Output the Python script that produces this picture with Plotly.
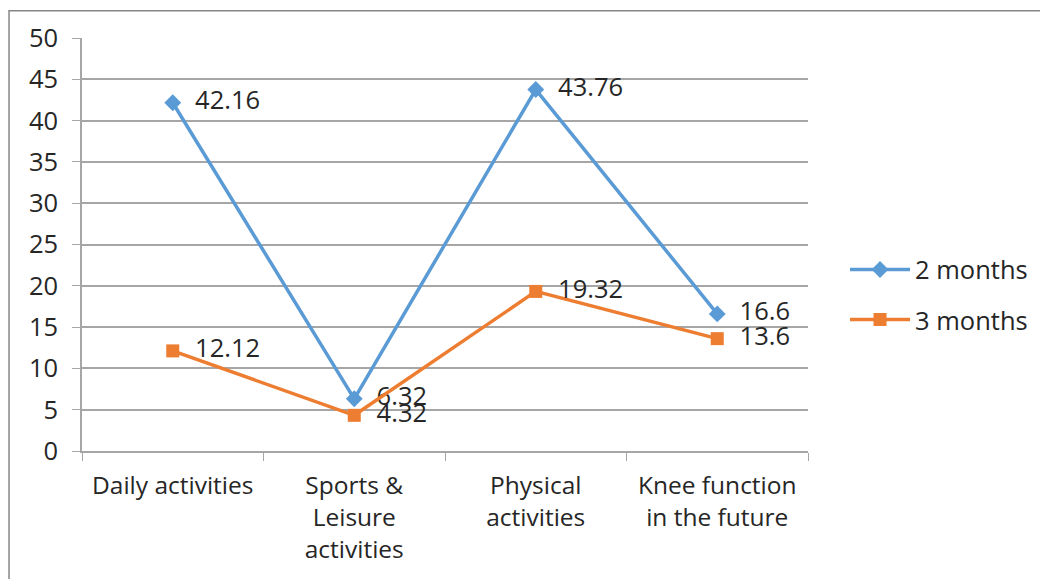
import plotly.graph_objects as go

categories = ["Daily activities", "Sports &<br>Leisure<br>activities", "Physical<br>activities", "Knee function<br>in the future"]
months2 = [42.16, 6.32, 43.76, 16.6]
months3 = [12.12, 4.32, 19.32, 13.6]
y_ticks = [0, 5, 10, 15, 20, 25, 30, 35, 40, 45, 50]

FONT = "Open Sans"
FS_CAT = 24.5
FS_NUM = 25.5
TXT = "#262626"
GRID = "#A6A6A6"
PAD = "\u00a0\u00a0"

fig = go.Figure()
fig.add_trace(go.Scatter(
    x=categories, y=months2, name="2 months", mode="lines+markers+text",
    legendgroup="a",
    line=dict(color="#5B9BD5", width=3.5),
    marker=dict(symbol="diamond", size=13, color="#5B9BD5"),
    text=[PAD + str(v) for v in months2], textposition="middle right",
    textfont=dict(family=FONT, size=FS_NUM, color=TXT),
))
fig.add_trace(go.Scatter(
    x=categories, y=months3, name="3 months", mode="lines+markers+text",
    legendgroup="b",
    line=dict(color="#ED7D31", width=3.5),
    marker=dict(symbol="square", size=13, color="#ED7D31"),
    text=[PAD + str(v) for v in months3], textposition="middle right",
    textfont=dict(family=FONT, size=FS_NUM, color=TXT),
))

fig.update_layout(
    width=1048, height=579,
    margin=dict(l=74, r=248, t=28, b=136),
    paper_bgcolor="white", plot_bgcolor="white",
    font=dict(family=FONT, size=FS_CAT, color=TXT),
    showlegend=True,
    legend=dict(x=1.051, xanchor="left", y=0.378, yanchor="middle",
                font=dict(family=FONT, size=FS_NUM, color=TXT),
                itemwidth=60, tracegroupgap=14),
    shapes=[dict(type="rect", xref="paper", yref="paper",
                 x0=-0.1005, x1=1.5, y0=-0.5, y1=1.066,
                 line=dict(color="#868686", width=1.5), layer="below")],
)
fig.update_xaxes(
    type="category", range=[-0.5, 3.5],
    showline=True, linecolor=GRID, linewidth=1.5,
    ticks="outside", tickson="boundaries", ticklen=8, tickcolor=GRID,
    ticklabelstandoff=12,
    showgrid=False,
    tickfont=dict(family=FONT, size=FS_CAT, color=TXT),
)
fig.update_yaxes(
    range=[0, 50], tickvals=y_ticks,
    showline=True, linecolor=GRID, linewidth=1.5,
    ticks="outside", ticklen=8, tickcolor=GRID,
    ticklabelstandoff=9,
    showgrid=True, gridcolor=GRID, gridwidth=1.5,
    zeroline=False,
    tickfont=dict(family=FONT, size=FS_NUM, color=TXT),
)

fig.write_html("out.html")
